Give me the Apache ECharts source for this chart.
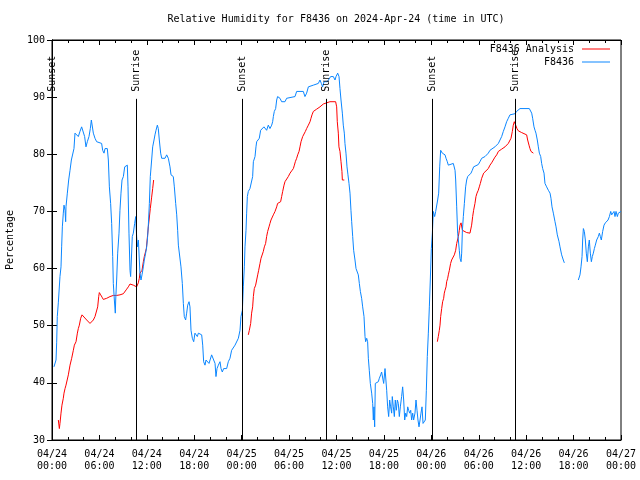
<!DOCTYPE html>
<html>
<head>
<meta charset="utf-8">
<script src="https://cdn.jsdelivr.net/npm/echarts@6/dist/echarts.min.js"></script>
<style>html,body{margin:0;padding:0;background:#fff}#c{width:640px;height:480px}</style>
</head>
<body>
<div id="c"></div>
<script>
// ---- data (hours since 2024-04-24 00:00 UTC, relative humidity %) ----
var obsHours = [0.25,0.51,0.59,0.67,0.80,0.93,1.01,1.14,1.22,1.31,1.43,1.52,1.65,1.73,1.77,1.94,2.11,2.28,2.45,2.66,2.78,2.91,3.12,3.33,3.54,3.75,3.96,4.13,4.30,4.47,4.68,4.85,4.98,5.15,5.23,5.44,5.65,5.86,6.28,6.41,6.58,6.71,7.00,7.13,7.26,7.42,7.55,7.68,7.76,7.89,8.01,8.06,8.18,8.31,8.48,8.60,8.73,8.86,9.03,9.20,9.36,9.53,9.62,9.74,9.87,9.95,10.04,10.16,10.29,10.46,10.59,10.71,10.80,10.93,11.05,11.13,11.26,11.39,11.56,11.68,11.85,11.98,12.10,12.19,12.32,12.44,12.61,12.74,12.91,13.03,13.16,13.33,13.45,13.58,13.75,13.88,14.30,14.51,14.72,14.93,15.06,15.35,15.48,15.65,15.78,15.90,15.99,16.20,16.32,16.49,16.62,16.74,16.91,17.04,17.17,17.34,17.46,17.59,17.76,17.93,18.09,18.22,18.39,18.52,18.73,18.94,19.07,19.19,19.36,19.49,19.70,19.87,20.03,20.20,20.41,20.63,20.75,20.88,21.05,21.26,21.39,21.55,21.72,21.89,22.10,22.31,22.52,22.73,22.94,23.16,23.37,23.58,23.79,23.91,24.09,24.21,24.34,24.42,24.55,24.63,24.72,24.84,25.05,25.26,25.39,25.48,25.69,25.81,25.90,26.11,26.23,26.40,26.61,26.82,26.95,27.16,27.37,27.58,27.71,27.80,27.92,28.01,28.13,28.30,28.43,28.55,28.72,28.85,29.06,29.48,29.69,29.90,30.75,30.96,31.80,32.01,32.22,32.44,33.07,33.70,33.91,34.08,34.25,34.42,34.59,34.84,35.09,35.26,35.60,35.81,35.94,36.15,36.32,36.44,36.57,36.74,36.86,36.99,37.07,37.20,37.33,37.45,37.58,37.71,37.83,37.92,38.05,38.17,38.34,38.47,38.68,38.76,38.89,39.02,39.18,39.31,39.48,39.61,39.69,39.82,39.94,40.03,40.15,40.28,40.45,40.58,40.66,40.74,40.83,40.91,41.29,41.42,41.59,41.71,41.84,41.97,42.14,42.22,42.35,42.47,42.60,42.73,42.85,42.98,43.06,43.19,43.32,43.44,43.57,43.70,43.82,43.95,44.08,44.24,44.37,44.50,44.63,44.75,44.88,45.01,45.13,45.26,45.39,45.51,45.64,45.76,45.93,46.06,46.19,46.31,46.44,46.57,46.69,46.82,46.95,47.24,47.37,47.49,47.62,47.75,47.87,48.00,48.13,48.25,48.42,48.55,48.67,48.80,48.93,49.06,49.18,49.27,49.39,49.56,49.73,49.86,50.02,50.15,50.78,50.91,51.00,51.08,51.21,51.33,51.42,51.54,51.63,51.76,51.84,51.93,52.05,52.18,52.34,52.47,52.60,52.76,53.02,53.18,53.35,53.52,53.94,54.15,54.37,54.58,54.79,55.00,55.21,55.42,55.63,56.05,56.27,56.48,56.69,56.90,57.11,57.32,57.53,57.74,57.95,58.16,58.58,58.79,59.01,59.22,60.40,60.57,60.70,60.82,60.99,61.12,61.24,61.41,61.54,61.67,61.84,61.96,62.09,62.26,62.38,62.59,62.81,63.02,63.14,63.27,63.44,63.65,63.78,63.94,64.16,64.28,64.49,64.70,64.83,65.70,66.60,66.81,66.94,67.07,67.15,67.24,67.36,67.49,67.61,67.74,67.87,67.99,68.12,68.25,68.37,68.50,68.63,68.75,68.92,69.13,69.26,69.39,69.51,69.68,69.85,70.02,70.19,70.36,70.53,70.70,70.82,70.95,71.12,71.24,71.37,71.54,71.66,71.88,72.00];
var obsRH = [42.8,44.0,47.0,51.6,54.0,54.0,58.6,60.3,63.8,67.3,69.7,71.1,70.2,68.2,70.8,73.2,75.5,77.2,79.0,79.3,81.0,83.7,84.0,83.1,84.0,84.8,85.1,83.1,81.3,82.2,83.1,84.5,86.0,86.0,83.7,82.8,82.2,82.2,81.9,80.7,80.2,81.0,81.0,79.0,74.3,71.4,67.9,62.1,57.4,54.5,52.2,54.5,58.0,62.7,66.2,70.2,73.2,75.5,76.1,77.8,78.1,78.1,74.3,66.2,59.7,58.6,61.5,65.6,66.2,67.9,69.1,65.6,63.8,65.0,61.5,59.2,58.0,58.9,60.3,61.5,62.7,63.8,65.6,67.6,71.4,76.1,79.0,81.3,82.5,83.4,84.2,85.1,84.5,82.5,80.2,79.3,79.3,79.9,79.3,77.8,76.4,76.1,74.3,71.4,69.4,66.7,64.1,63.8,60.3,57.4,53.9,51.6,51.0,52.2,53.6,54.2,53.3,49.2,47.8,47.2,48.7,48.9,48.1,48.7,48.9,48.4,46.6,43.7,43.1,44.0,44.0,43.4,43.7,44.9,44.6,43.4,41.1,42.5,43.1,43.7,42.5,41.9,42.5,42.2,42.5,43.7,44.3,45.7,45.5,46.6,46.9,47.8,49.2,51.6,52.7,56.8,60.3,63.8,66.7,69.7,72.6,73.5,74.0,74.3,76.1,78.7,79.6,81.3,82.2,82.2,82.8,84.2,84.5,84.8,85.1,84.2,85.1,84.5,84.2,85.1,85.7,86.6,87.5,88.0,89.5,90.1,90.1,89.8,89.2,89.2,89.8,90.1,90.1,91.0,91.0,90.1,90.7,91.8,92.1,92.4,93.0,92.4,91.8,92.7,93.0,92.7,93.0,93.6,93.6,93.0,93.6,94.2,93.6,91.5,89.5,87.2,85.1,83.7,81.9,80.2,77.8,76.4,74.9,73.2,70.2,68.2,65.6,63.2,61.5,60.0,59.7,58.9,57.4,56.0,54.8,53.3,51.6,48.1,47.2,47.8,47.2,44.3,42.2,39.9,38.2,36.4,33.5,35.8,32.3,39.9,40.2,40.8,41.4,41.9,41.7,39.9,42.5,42.8,38.7,35.8,34.1,37.0,35.8,34.7,37.6,35.8,34.1,37.0,35.2,37.0,36.4,34.1,35.8,37.6,39.3,37.0,33.5,34.7,34.1,35.8,35.2,34.7,35.2,33.5,34.7,33.5,34.7,37.0,35.2,33.5,32.3,33.5,34.7,35.8,32.9,33.5,38.7,44.6,48.7,53.3,58.0,63.5,66.2,70.0,69.1,70.0,70.2,72.0,73.2,77.8,80.7,81.0,80.2,80.2,79.9,79.3,78.7,78.1,78.4,78.1,77.2,75.5,70.8,66.2,65.0,63.2,61.8,61.2,62.7,66.7,69.1,71.4,74.3,75.5,76.1,76.4,76.7,77.2,77.8,78.1,78.2,78.7,79.3,79.6,79.6,79.9,80.2,80.7,81.0,81.3,81.6,81.9,82.5,83.1,84.0,84.8,85.7,86.3,86.9,87.2,87.1,87.5,87.5,88.0,88.0,87.7,87.2,86.3,84.8,84.2,83.7,82.5,81.3,80.2,79.6,78.4,77.5,76.7,74.9,74.3,73.7,73.2,72.3,70.8,69.7,68.2,67.3,65.9,64.7,63.8,62.4,61.5,61.0,null,58.0,58.9,60.3,62.1,65.0,67.0,66.5,65.0,62.7,61.2,63.8,65.0,62.7,61.2,62.1,62.7,63.5,64.1,65.0,65.6,66.2,65.6,65.0,66.5,67.6,68.0,68.2,68.5,69.1,70.0,69.4,69.1,70.0,69.1,70.0,69.1,69.7,70.0,70.0];

var anaHours = [0.80,0.93,1.01,1.14,1.26,1.43,1.52,1.65,1.77,1.86,2.07,2.28,2.49,2.70,2.83,3.04,3.21,3.33,3.46,3.63,3.80,3.96,4.39,4.81,5.02,5.23,5.44,5.65,5.78,5.91,5.99,6.16,6.33,6.49,6.71,6.92,7.34,7.76,8.18,8.60,9.03,9.24,9.45,9.66,9.87,10.08,10.29,10.71,10.84,10.92,11.05,11.13,11.39,11.56,11.68,11.81,11.94,12.06,12.19,12.44,12.61,12.74,12.86,18.0,24.84,24.97,25.14,25.26,25.39,25.48,25.60,25.77,25.90,26.03,26.15,26.32,26.45,26.61,26.74,26.87,27.03,27.16,27.29,27.46,27.58,27.71,27.88,28.01,28.22,28.43,28.55,28.93,29.06,29.19,29.36,29.48,29.69,29.90,30.12,30.33,30.54,30.67,30.79,30.96,31.09,31.26,31.38,31.51,31.72,31.89,32.06,32.22,32.44,32.65,32.77,32.90,33.07,33.49,33.91,34.33,34.75,35.17,35.89,36.02,36.10,36.23,36.31,36.44,36.57,36.69,36.74,36.99,42.0,48.76,48.88,49.01,49.10,49.18,49.31,49.43,49.56,49.64,49.73,49.86,49.94,50.07,50.15,50.28,50.44,50.57,50.78,50.91,51.08,51.21,51.33,51.42,51.54,51.63,51.76,51.93,52.05,52.47,52.89,52.98,53.10,53.23,53.35,53.52,53.65,53.78,53.94,54.07,54.20,54.37,54.49,54.62,54.79,55.21,55.42,55.63,55.84,56.05,56.27,56.48,56.90,57.32,57.74,57.95,58.08,58.25,58.37,58.50,58.63,58.71,58.84,59.01,59.43,59.64,60.06,60.19,60.36,60.48,60.61,60.78,60.91];
var anaRH = [33.5,32.0,32.9,34.7,36.1,37.3,38.2,39.0,39.6,39.9,41.4,43.1,44.3,45.7,46.6,47.2,48.7,49.5,50.1,51.3,51.9,51.6,51.0,50.4,50.7,51.0,51.6,51.9,53.3,55.1,55.8,55.4,55.0,54.6,54.6,54.8,55.1,55.3,55.3,55.4,55.6,55.9,56.4,56.8,57.3,57.4,57.1,56.8,56.9,57.5,58.3,59.2,59.7,61.2,62.1,62.4,63.5,65.3,67.3,70.5,72.5,74.0,75.5,null,48.4,49.2,50.4,52.2,53.3,55.1,56.5,57.1,58.0,58.9,59.7,60.9,61.8,62.1,63.0,63.8,64.4,65.6,66.5,67.3,67.9,68.5,68.8,69.4,70.0,70.8,71.4,71.7,72.6,73.5,74.6,75.2,75.5,76.1,76.7,77.1,77.5,78.1,78.7,79.3,79.9,80.5,81.3,82.2,83.1,83.4,84.0,84.5,85.1,85.7,86.3,86.9,87.5,87.9,88.3,88.8,89.0,89.2,89.2,88.3,85.7,83.7,81.3,80.5,78.7,77.0,75.5,75.5,null,47.2,48.1,49.2,50.1,51.6,53.0,54.2,54.8,55.7,56.2,56.8,57.7,58.3,58.9,59.7,60.9,61.5,61.5,62.4,63.2,64.4,64.7,65.6,66.7,67.6,68.0,66.7,66.5,66.3,66.2,65.9,67.6,69.1,70.2,71.4,72.6,73.2,73.7,74.3,74.9,75.8,76.1,76.7,77.0,77.5,78.1,78.5,79.0,79.5,79.9,80.5,80.9,81.3,81.9,82.2,82.8,84.0,85.1,85.7,86.0,85.4,84.5,84.1,83.8,83.5,83.4,82.5,81.6,81.0,80.5,80.2,80.2];

var sunHours  = [0.04, 10.67, 24.08, 34.71, 48.12, 58.62];
var sunLabels = ['Sunset', 'Sunrise', 'Sunset', 'Sunrise', 'Sunset', 'Sunrise'];

var xTickLabels = ['04/24\n00:00','04/24\n06:00','04/24\n12:00','04/24\n18:00','04/25\n00:00','04/25\n06:00','04/25\n12:00','04/25\n18:00','04/26\n00:00','04/26\n06:00','04/26\n12:00','04/26\n18:00','04/27\n00:00'];
var yTickValues = [30, 40, 50, 60, 70, 80, 90, 100];

var titleText = 'Relative Humidity for F8436 on 2024-Apr-24 (time in UTC)';
var seriesNames = ['F8436 Analysis', 'F8436'];

// ---- chart ----
function zip(xs, ys) { return xs.map(function (x, i) { return [x, ys[i]]; }); }
var FONT = 'DejaVu Sans Mono';
var SUN_TOP = 89.7;

var axisCommon = {
  type: 'value', min: 0, max: 72, interval: 6,
  axisLine: { show: true, lineStyle: { color: '#000', width: 1 } },
  axisTick: { show: true, inside: true, length: 5, lineStyle: { color: '#000' } },
  minorTick: { show: true, splitNumber: 3, length: 3, lineStyle: { color: '#000' } },
  splitLine: { show: false }, minorSplitLine: { show: false }
};
var yCommon = {
  type: 'value', min: 30, max: 100, interval: 10,
  axisLine: { show: true, lineStyle: { color: '#000', width: 1 } },
  axisTick: { show: true, inside: true, length: 5, lineStyle: { color: '#000' } },
  splitLine: { show: false }
};
var legendCommon = {
  right: 30, padding: 0, orient: 'vertical', align: 'right', icon: 'rect',
  itemWidth: 28, itemHeight: 1, itemGap: 0,
  textStyle: { fontFamily: FONT, fontSize: 10, color: '#000', padding: [0, 3, 0, 0] }
};

var chart = echarts.init(document.getElementById('c'), null, { renderer: 'canvas' });
chart.setOption({
  animation: false,
  backgroundColor: '#fff',
  textStyle: { fontFamily: FONT },
  title: {
    text: titleText, left: 336, top: 14, padding: 0, textAlign: 'center',
    textStyle: { fontFamily: FONT, fontSize: 10, fontWeight: 'normal', color: '#000' }
  },
  legend: [
    Object.assign({}, legendCommon, { data: [seriesNames[0]], top: 44 }),
    Object.assign({}, legendCommon, { data: [seriesNames[1]], top: 57 })
  ],
  grid: { left: 52, right: 19, top: 40, bottom: 40, outerBoundsMode: 'none', containLabel: false,
    show: true, borderColor: '#000', borderWidth: 1, backgroundColor: 'transparent' },
  xAxis: [
    Object.assign({}, axisCommon, {
      position: 'bottom',
      axisLabel: { show: true, margin: 8, color: '#000', fontFamily: FONT, fontSize: 10, lineHeight: 12,
        formatter: function (v) { return xTickLabels[Math.round(v / 6)]; } }
    }),
    Object.assign({}, axisCommon, { position: 'top', axisLabel: { show: false } })
  ],
  yAxis: [
    Object.assign({}, yCommon, {
      position: 'left',
      name: 'Percentage', nameLocation: 'middle', nameGap: 37, nameRotate: 90,
      nameTextStyle: { fontFamily: FONT, fontSize: 10, color: '#000' },
      axisLabel: { show: true, margin: 7, color: '#000', fontFamily: FONT, fontSize: 10,
        formatter: function (v) { return yTickValues.indexOf(v) >= 0 ? String(v) : ''; } }
    }),
    Object.assign({}, yCommon, { position: 'right', axisLabel: { show: false } })
  ],
  series: [
    { name: seriesNames[0], type: 'line', data: zip(anaHours, anaRH), symbol: 'none', showSymbol: false,
      connectNulls: false, lineStyle: { color: '#ff0000', width: 1 }, itemStyle: { color: '#ff0000' }, z: 2 },
    { name: seriesNames[1], type: 'line', data: zip(obsHours, obsRH), symbol: 'none', showSymbol: false,
      connectNulls: false, lineStyle: { color: '#0a86ff', width: 1 }, itemStyle: { color: '#0a86ff' }, z: 3 },
    { name: 'sun', type: 'line', data: [], symbol: 'none', z: 4,
      markLine: {
        silent: true, symbol: ['none', 'none'], animation: false,
        label: { show: false },
        lineStyle: { color: '#000', width: 1, type: 'solid' },
        data: sunHours.map(function (t) { return [{ coord: [t, 30] }, { coord: [t, SUN_TOP] }]; })
      }
    },
    { name: 'sunLabels', type: 'scatter', symbolSize: 0, z: 5, silent: true,
      data: sunHours.map(function (t, i) { return [t, SUN_TOP, sunLabels[i]]; }),
      label: { show: true, position: 'top', distance: 7, rotate: 90, align: 'left', verticalAlign: 'middle',
        fontFamily: FONT, fontSize: 10, color: '#000', opacity: 1,
        formatter: function (p) { return p.value[2]; } }
    }
  ]
});
</script>
</body>
</html>
